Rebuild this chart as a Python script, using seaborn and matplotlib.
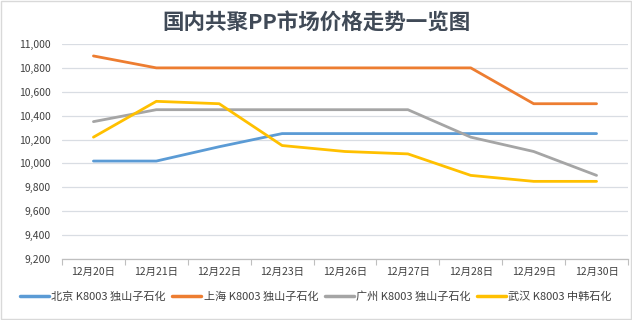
import numpy as np
import pandas as pd
import seaborn as sns
import matplotlib
matplotlib.use("Agg")
import matplotlib.pyplot as plt
from matplotlib.patches import Rectangle

dates = ["12月20日", "12月21日", "12月22日", "12月23日", "12月26日",
         "12月27日", "12月28日", "12月29日", "12月30日"]
series_names = ["北京 K8003 独山子石化", "上海 K8003 独山子石化",
                "广州 K8003 独山子石化", "武汉 K8003 中韩石化"]
beijing = [10020, 10020, 10140, 10250, 10250, 10250, 10250, 10250, 10250]
shanghai = [10900, 10800, 10800, 10800, 10800, 10800, 10800, 10500, 10500]
guangzhou = [10350, 10450, 10450, 10450, 10450, 10450, 10220, 10100, 9900]
wuhan = [10220, 10520, 10500, 10150, 10100, 10080, 9900, 9850, 9850]
colors = ["#5B9BD5", "#ED7D31", "#A5A5A5", "#FFC000"]
yticks = [9200, 9400, 9600, 9800, 10000, 10200, 10400, 10600, 10800, 11000]

sns.set_theme(style="white")
plt.rcParams["font.family"] = ["Noto Sans CJK SC", "DejaVu Sans"]

frames = []
for name, vals in zip(series_names, [beijing, shanghai, guangzhou, wuhan]):
    frames.append(pd.DataFrame({"date": dates, "price": vals, "series": name}))
df = pd.concat(frames, ignore_index=True)

fig = plt.figure(figsize=(6.32, 3.2), dpi=100)
ax = fig.add_axes([62 / 632, 1 - 259 / 320, (628 - 62) / 632, (259 - 44) / 320])

sns.lineplot(data=df, x="date", y="price", hue="series", palette=colors,
             hue_order=series_names, sort=False, linewidth=2.0, ax=ax,
             legend=False)

ax.set_xlim(-0.5, len(dates) - 0.5)
ax.set_ylim(9200, 11000)
ax.set_yticks(yticks)
ax.set_yticklabels([f"{v:,}" for v in yticks])
ax.set_xticks(range(len(dates)))
ax.set_xticklabels(dates)
ax.set_xticks(np.arange(-0.5, len(dates), 1), minor=True)
ax.grid(axis="y", color="#D9DDE3", linewidth=0.9)
ax.grid(axis="x", visible=False)
ax.set_axisbelow(True)
for s in ["top", "right", "left"]:
    ax.spines[s].set_visible(False)
ax.spines["bottom"].set_color("#BFBFBF")
ax.spines["bottom"].set_linewidth(0.9)
ax.tick_params(axis="y", length=0, pad=8, labelsize=7.5, labelcolor="#404040")
ax.tick_params(axis="x", which="major", length=0, pad=6, labelsize=7.5,
               labelcolor="#404040")
ax.tick_params(axis="x", which="minor", length=4, width=0.8, color="#BFBFBF",
               bottom=True)
ax.set_xlabel("")
ax.set_ylabel("")

fig.text(0.5, 1 - 22 / 320, "国内共聚PP市场价格走势一览图", ha="center", va="center",
         fontsize=15.5, fontweight="bold", color="#404A57")

from matplotlib.lines import Line2D
handles = [Line2D([0], [0], color=c, linewidth=2.5) for c in colors]
fig.legend(handles, series_names, loc="center", ncol=4,
           bbox_to_anchor=(316 / 632, 1 - 297 / 320), frameon=False,
           fontsize=8, handlelength=2.6, handletextpad=0.2, columnspacing=0.6,
           labelcolor="#404040")

fig.patches.append(Rectangle((0.001, 0.002), 0.997, 0.995, transform=fig.transFigure,
                             fill=False, edgecolor="#D9D9D9", linewidth=1))

fig.savefig("out.png", dpi=100)
